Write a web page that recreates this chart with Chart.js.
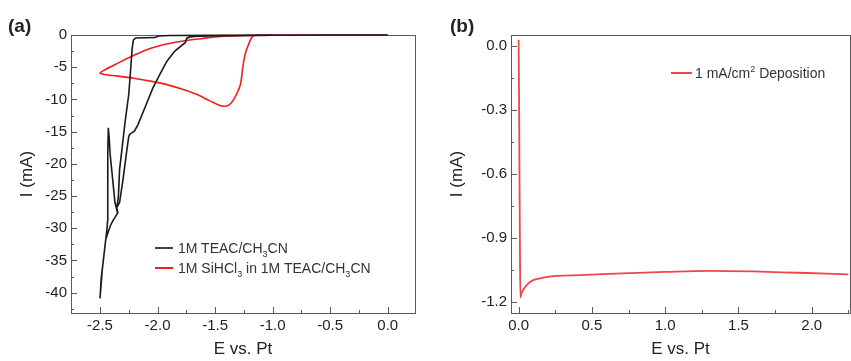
<!DOCTYPE html>
<html>
<head>
<meta charset="utf-8">
<script src="https://cdn.jsdelivr.net/npm/chart.js@4.4.0/dist/chart.umd.min.js"></script>
<style>
  body { margin:0; width:851px; height:361px; background:#fff; position:relative; overflow:hidden;
         font-family:"Liberation Sans", Arial, sans-serif; }
  canvas { position:absolute; top:0; }
  #chartA { left:0; }
  #chartB { left:430px; }
  .panel { position:absolute; font-weight:bold; font-size:19px; color:#222; line-height:1; }
  .leg { position:absolute; font-size:14px; color:#333; white-space:nowrap; height:16px; line-height:16px; }
  .swatch { position:absolute; height:2px; }
  sub, sup { font-size:9px; line-height:0; }
</style>
</head>
<body>
<canvas id="chartA" width="425" height="361"></canvas>
<canvas id="chartB" width="421" height="361"></canvas>

<div class="panel" style="left:8px; top:16px;">(a)</div>
<div class="panel" style="left:450px; top:16px;">(b)</div>

<span class="swatch" style="left:155px; top:247px; width:18px; background:#444;"></span>
<div class="leg" style="left:178px; top:240px;">1M TEAC/CH<sub>3</sub>CN</div>
<span class="swatch" style="left:155px; top:267px; width:18px; background:#f01e1e;"></span>
<div class="leg" style="left:178px; top:260px;">1M SiHCl<sub>3</sub> in 1M TEAC/CH<sub>3</sub>CN</div>

<span class="swatch" style="left:671px; top:72px; width:21px; background:#f04646;"></span>
<div class="leg" style="left:695px; top:65px;">1 mA/cm<sup>2</sup> Deposition</div>

<script>
// (a) cyclic voltammograms, E vs. Pt (V) and I (mA)
const teacE = [0.0, -0.5, -1.0, -1.4, -1.65, -1.72, -1.746, -1.76, -1.85, -1.92, -1.98, -2.04, -2.11, -2.17, -2.20, -2.24,
  -2.25, -2.27, -2.30, -2.33, -2.355, -2.345, -2.39, -2.41, -2.45, -2.48, -2.50,
  -2.49, -2.465, -2.44, -2.432, -2.433, -2.432, -2.428, -2.42, -2.413, -2.395, -2.384, -2.37, -2.355, -2.34, -2.33,
  -2.30, -2.28, -2.25, -2.22, -2.21, -2.19, -2.10, -2.02, -1.995, -1.89, -1.5, -1.0];
const teacI = [0, 0, -0.05, -0.1, -0.2, -0.3, -0.5, -1.2, -2.5, -4.1, -6.1, -8.2, -11.3, -13.9, -14.9, -15.4,
  -15.7, -18.3, -22.4, -26.0, -26.8, -27.6, -28.9, -29.6, -31.7, -36.4, -40.9,
  -37.9, -34.0, -30.2, -28.5, -23.5, -18.3, -14.4, -16.0, -18.3, -21.5, -23.5, -26.0, -27.1, -25.0, -20.9,
  -16.3, -13.2, -9.2, -2.0, -0.8, -0.46, -0.42, -0.4, -0.15, -0.08, -0.03, -0.02];

const sihE = [0.0, -0.5, -1.0, -1.15, -1.18, -1.21, -1.24, -1.26, -1.28, -1.33, -1.38, -1.43, -1.49, -1.57, -1.66,
  -1.75, -1.92, -2.05, -2.21, -2.355, -2.5, -2.34, -2.196, -2.05, -1.91, -1.76, -1.62, -1.46, -1.2, -0.76, 0.0];
const sihI = [0, 0, 0, -0.05, -0.36, -1.5, -3.05, -5.1, -7.7, -9.75, -10.9, -11.05, -10.7, -10.0, -9.2,
  -8.6, -7.7, -7.2, -6.7, -6.35, -5.93, -4.33, -3.05, -2.0, -1.35, -0.88, -0.57, -0.23, -0.08, -0.01, 0];

// (b) 1 mA/cm2 deposition
const depE = [0.0, 0.003, 0.006, 0.009, 0.012, 0.02, 0.046, 0.08, 0.148, 0.26, 0.42, 0.75, 1.0, 1.3, 1.6, 1.9, 2.1, 2.25];
const depI = [0.03, -0.25, -0.6, -0.95, -1.18, -1.16, -1.13, -1.106, -1.09, -1.079, -1.075, -1.066, -1.06, -1.055,
  -1.058, -1.064, -1.068, -1.072];

const ticksAX = [-2.5, -2.0, -1.5, -1.0, -0.5, 0.0];
const ticksAY = [0, -5, -10, -15, -20, -25, -30, -35, -40];
const ticksBX = [0.0, 0.5, 1.0, 1.5, 2.0];
const ticksBY = [0.0, -0.3, -0.6, -0.9, -1.2];

const pts = (xs, ys) => xs.map((v, i) => ({ x: v, y: ys[i] }));

// box round the plot area plus inward major/minor ticks on the left and bottom axes
const frameTicks = {
  id: 'frameTicks',
  beforeDatasetsDraw(chart, args, opts) {
    const { ctx, chartArea: a, scales: { x, y } } = chart;
    const snap = v => Math.round(v) + 0.5;
    ctx.save();
    ctx.strokeStyle = '#5a5a5a';
    ctx.lineWidth = 1;
    ctx.strokeRect(snap(a.left), snap(a.top), Math.round(a.right) - Math.round(a.left), Math.round(a.bottom) - Math.round(a.top));
    const minors = (arr, lo, hi) => {
      const st = Math.abs(arr[1] - arr[0]) / 2;
      const out = [];
      arr.forEach(v => [v - st, v + st].forEach(m => {
        if (m > lo && m < hi && !out.some(o => Math.abs(o - m) < 1e-9)) out.push(m);
      }));
      return out;
    };
    ctx.beginPath();
    opts.xMajor.forEach(v => { const p = snap(x.getPixelForValue(v)); ctx.moveTo(p, a.bottom); ctx.lineTo(p, a.bottom - 6); });
    minors(opts.xMajor, x.min, x.max).forEach(v => { const p = snap(x.getPixelForValue(v)); ctx.moveTo(p, a.bottom); ctx.lineTo(p, a.bottom - 3); });
    opts.yMajor.forEach(v => { const p = snap(y.getPixelForValue(v)); ctx.moveTo(a.left, p); ctx.lineTo(a.left + 6, p); });
    minors(opts.yMajor, y.min, y.max).forEach(v => { const p = snap(y.getPixelForValue(v)); ctx.moveTo(a.left, p); ctx.lineTo(a.left + 3, p); });
    ctx.stroke();
    ctx.restore();
  }
};

const tickFont = { family: '"Liberation Sans", Arial, sans-serif', size: 15 };
const titleFont = { family: '"Liberation Sans", Arial, sans-serif', size: 17 };

function axes(xr, yr, xTicks, yTicks, xFmt, yFmt) {
  return {
    x: {
      type: 'linear', min: xr[0], max: xr[1],
      afterBuildTicks: s => { s.ticks = xTicks.map(v => ({ value: v })); },
      afterFit: s => { s.height = 48; },
      grid: { display: false, drawTicks: false },
      border: { display: false },
      ticks: { font: tickFont, color: '#222', padding: 4, maxRotation: 0, callback: xFmt },
      title: { display: true, text: 'E vs. Pt', font: titleFont, color: '#222', padding: { top: 0, bottom: 1 } }
    },
    y: {
      type: 'linear', min: yr[0], max: yr[1],
      afterBuildTicks: s => { s.ticks = yTicks.map(v => ({ value: v })); },
      afterFit: s => { s.width = yr.w; },
      grid: { display: false, drawTicks: false },
      border: { display: false },
      ticks: { font: tickFont, color: '#222', padding: 4, callback: yFmt },
      title: { display: true, text: 'I (mA)', font: titleFont, color: '#222', padding: { top: 17, bottom: 0 } }
    }
  };
}

const yRangeA = [-43.15, 0]; yRangeA.w = 71;
const yRangeB = [-1.253, 0.052]; yRangeB.w = 81;

const chartA = new Chart(document.getElementById('chartA'), {
  type: 'scatter',
  data: {
    datasets: [
      { label: '1M TEAC/CH3CN', data: pts(teacE, teacI), showLine: true, borderColor: '#1a1a1a', borderWidth: 1.6,
        pointRadius: 0, tension: 0, clip: false },
      { label: '1M SiHCl3 in 1M TEAC/CH3CN', data: pts(sihE, sihI), showLine: true, borderColor: '#f01e1e', borderWidth: 1.6,
        pointRadius: 0, tension: 0.2, clip: false }
    ]
  },
  options: {
    responsive: false, animation: false, devicePixelRatio: 1,
    layout: { padding: { left: 0, right: 10, top: 35, bottom: 0 } },
    plugins: { legend: { display: false }, tooltip: { enabled: false },
      frameTicks: { xMajor: ticksAX, yMajor: ticksAY } },
    scales: axes([-2.752, 0.237], yRangeA, ticksAX, ticksAY, v => v.toFixed(1), v => String(v))
  },
  plugins: [frameTicks]
});

const chartB = new Chart(document.getElementById('chartB'), {
  type: 'scatter',
  data: {
    datasets: [
      { label: '1 mA/cm2 Deposition', data: pts(depE, depI), showLine: true, borderColor: '#f04646', borderWidth: 1.8,
        pointRadius: 0, cubicInterpolationMode: 'monotone', clip: false }
    ]
  },
  options: {
    responsive: false, animation: false, devicePixelRatio: 1,
    layout: { padding: { left: 0, right: 1, top: 35, bottom: 0 } },
    plugins: { legend: { display: false }, tooltip: { enabled: false },
      frameTicks: { xMajor: ticksBX, yMajor: ticksBY } },
    scales: axes([-0.052, 2.261], yRangeB, ticksBX, ticksBY, v => v.toFixed(1), v => v.toFixed(1))
  },
  plugins: [frameTicks]
});
</script>
</body>
</html>
